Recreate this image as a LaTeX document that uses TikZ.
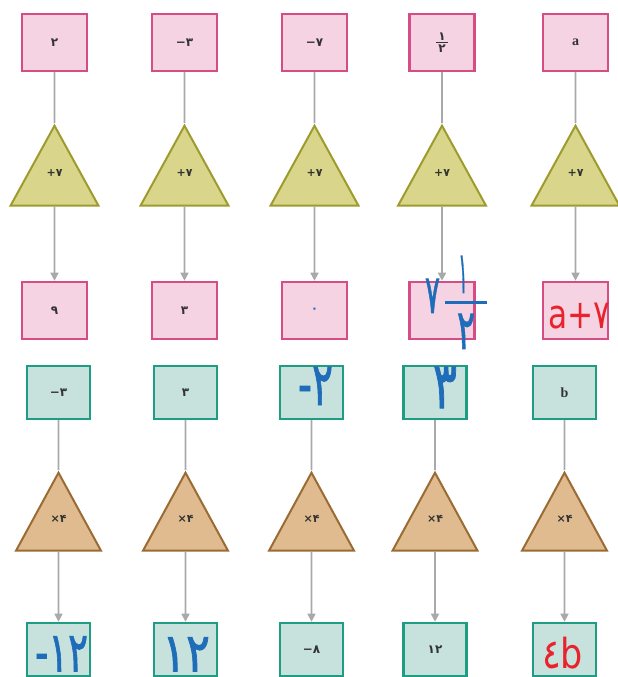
\documentclass[tikz,border=0pt]{standalone}
\usepackage{fontspec}
\usetikzlibrary{positioning,shapes.geometric,arrows.meta}
\newfontfamily\fa[Script=Arabic]{DejaVu Sans}
\newfontfamily\inkfont[Script=Arabic, FakeBold=1.6]{DejaVu Sans}
\newfontfamily\lat{Liberation Serif}
\definecolor{pinkfill}{HTML}{F5D3E2}
\definecolor{pinkdraw}{HTML}{D64C85}
\definecolor{addfill}{HTML}{D9D58A}
\definecolor{adddraw}{HTML}{9E9B2E}
\definecolor{tealfill}{HTML}{C7E1DD}
\definecolor{tealdraw}{HTML}{1F9C84}
\definecolor{mulfill}{HTML}{DFBB8F}
\definecolor{muldraw}{HTML}{9A6B33}
\definecolor{linkgray}{HTML}{A9A9A9}
\definecolor{numtext}{HTML}{333333}
\definecolor{handblue}{HTML}{1F6DB8}
\definecolor{handred}{HTML}{E8232B}
% sign and digits kept in reading order
\newcommand{\signed}[2]{\mbox{#1}\mbox{#2}}
% small printed fraction
\newcommand{\pfrac}[2]{$\vcenter{\hbox to 12pt{\hss#1\hss}\kern1.5pt\hrule height 0.9pt\kern1.5pt\hbox to 12pt{\hss#2\hss}}$}
% handwritten ink: left offset, bottom raise, width, height
\newcommand{\ink}[5]{\makebox[0pt][l]{\hspace{#1}\raisebox{#2}[0pt][0pt]{\resizebox{#3}{#4}{\raisebox{\depth}{#5}}}}}
\newcommand{\optext}[1]{\raisebox{8pt}[0pt][0pt]{#1}}

\begin{document}
\begin{tikzpicture}[x=1pt, y=-1pt,
  numbox/.style={draw, line width=2.2pt, minimum width=65pt, minimum height=57pt,
    inner sep=0pt, text=numtext, font=\fa\bfseries\fontsize{12}{14}\selectfont},
  pinkbox/.style={numbox, draw=pinkdraw, fill=pinkfill},
  tealbox/.style={numbox, draw=tealdraw, fill=tealfill, minimum width=63pt, minimum height=53pt},
  optri/.style={isosceles triangle, shape border rotate=90, isosceles triangle stretches,
    draw, line width=2pt, minimum width=88pt, minimum height=80pt, inner sep=0pt,
    text=numtext, font=\fa\bfseries\fontsize{11}{13}\selectfont},
  addtri/.style={optri, draw=adddraw, fill=addfill},
  multri/.style={optri, draw=muldraw, fill=mulfill, minimum width=85pt, minimum height=78pt},
  link/.style={draw=linkgray, line width=1.6pt},
  arrow/.style={link, -{Triangle[length=8pt, width=8pt]}},
  blueink/.style={text=handblue, font=\inkfont},
  redink/.style={text=handred, font=\fa}
  ]
  \useasboundingbox (0,0) rectangle (618,677);

  % adding seven
  \node[pinkbox] (in1) at (54.5,42.5) {۲};
  \node[pinkbox] (in2) at (184.5,42.5) {\signed{−}{۳}};
  \node[pinkbox] (in3) at (314.5,42.5) {\signed{−}{۷}};
  \node[pinkbox] (in4) at (442,42.5) {\pfrac{۱}{۲}};
  \node[pinkbox] (in5) at (575.5,42.5) {\lat\bfseries\fontsize{14}{16}\selectfont a};

  \node[addtri, below=51pt of in1, anchor=apex] (add1) {\optext{\signed{+}{۷}}};
  \node[addtri, below=51pt of in2, anchor=apex] (add2) {\optext{\signed{+}{۷}}};
  \node[addtri, below=51pt of in3, anchor=apex] (add3) {\optext{\signed{+}{۷}}};
  \node[addtri, below=51pt of in4, anchor=apex] (add4) {\optext{\signed{+}{۷}}};
  \node[addtri, below=51pt of in5, anchor=apex] (add5) {\optext{\signed{+}{۷}}};

  \node[pinkbox, below=74pt of add1] (out1) {۹};
  \node[pinkbox, below=74pt of add2] (out2) {۳};
  \node[pinkbox, below=74pt of add3] (out3) {\color{handblue}۰};
  \node[pinkbox, blueink, below=74pt of add4] (out4)
    {\ink{-17pt}{-2.5pt}{15pt}{34pt}{۷}\ink{16.5pt}{17.5pt}{9pt}{37pt}{۱}%
     \ink{3pt}{6pt}{42pt}{3pt}{\rule{1pt}{1pt}}\ink{15pt}{-38.5pt}{18pt}{35pt}{۲}};
  \node[pinkbox, redink, below=74pt of add5] (out5)
    {\ink{-27.5pt}{-18.5pt}{62pt}{26pt}{\signed{a+}{۷}}};

  % times four
  \node[tealbox] (inb1) at (58.5,392.5) {\signed{−}{۳}};
  \node[tealbox] (inb2) at (185.5,392.5) {۳};
  \node[tealbox, blueink] (inb3) at (311.5,392.5)
    {\ink{-13.5pt}{-12.5pt}{35pt}{38pt}{\signed{-}{۲}}};
  \node[tealbox, blueink] (inb4) at (435,392.5) {\ink{-2pt}{-15.5pt}{24pt}{41pt}{۳}};
  \node[tealbox] (inb5) at (564.5,392.5) {\lat\bfseries\fontsize{14}{16}\selectfont b};

  \node[multri, below=50pt of inb1, anchor=apex] (mul1) {\optext{\signed{×}{۴}}};
  \node[multri, below=50pt of inb2, anchor=apex] (mul2) {\optext{\signed{×}{۴}}};
  \node[multri, below=50pt of inb3, anchor=apex] (mul3) {\optext{\signed{×}{۴}}};
  \node[multri, below=50pt of inb4, anchor=apex] (mul4) {\optext{\signed{×}{۴}}};
  \node[multri, below=50pt of inb5, anchor=apex] (mul5) {\optext{\signed{×}{۴}}};

  \node[tealbox, blueink, below=70pt of mul1] (outb1)
    {\ink{-23.5pt}{-22pt}{53pt}{35pt}{\signed{-}{۱۲}}};
  \node[tealbox, blueink, below=70pt of mul2] (outb2) {\ink{-23.5pt}{-22pt}{48pt}{34pt}{۱۲}};
  \node[tealbox, below=70pt of mul3] (outb3) {\signed{−}{۸}};
  \node[tealbox, below=70pt of mul4] (outb4) {۱۲};
  \node[tealbox, redink, below=70pt of mul5] (outb5) {\ink{-22.5pt}{-20pt}{41pt}{32pt}{\signed{٤}{b}}};

  \draw[link] (in1) -- (add1);
  \draw[link] (in2) -- (add2);
  \draw[link] (in3) -- (add3);
  \draw[link] (in4) -- (add4);
  \draw[link] (in5) -- (add5);
  \draw[arrow] (add1) -- (out1);
  \draw[arrow] (add2) -- (out2);
  \draw[arrow] (add3) -- (out3);
  \draw[arrow] (add4) -- (out4);
  \draw[arrow] (add5) -- (out5);

  \draw[link] (inb1) -- (mul1);
  \draw[link] (inb2) -- (mul2);
  \draw[link] (inb3) -- (mul3);
  \draw[link] (inb4) -- (mul4);
  \draw[link] (inb5) -- (mul5);
  \draw[arrow] (mul1) -- (outb1);
  \draw[arrow] (mul2) -- (outb2);
  \draw[arrow] (mul3) -- (outb3);
  \draw[arrow] (mul4) -- (outb4);
  \draw[arrow] (mul5) -- (outb5);
\end{tikzpicture}
\end{document}
